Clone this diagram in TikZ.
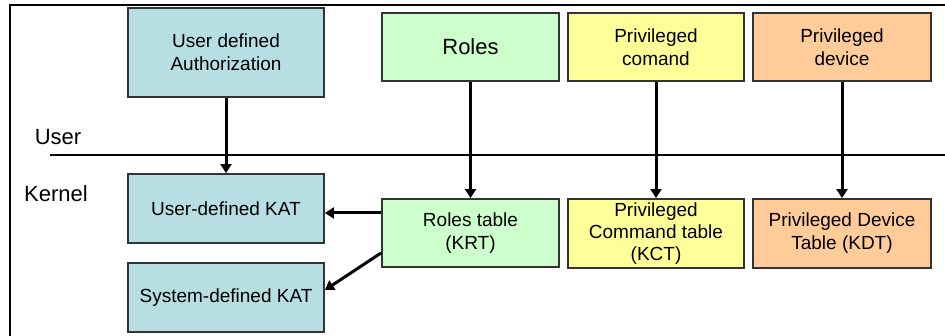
\documentclass[tikz,border=0pt]{standalone}
\usepackage{fontspec}
\setmainfont{Liberation Sans}
\usetikzlibrary{arrows.meta}
\definecolor{tealbox}{HTML}{B7DEE2}
\definecolor{greenbox}{HTML}{CCFFCC}
\definecolor{yellowbox}{HTML}{FFFF99}
\definecolor{orangebox}{HTML}{FFCC99}
\definecolor{edgegray}{HTML}{333333}
\tikzset{
  box/.style={draw=edgegray, line width=1.9pt, align=center, inner sep=0pt,
    font=\fontsize{19}{23}\selectfont},
  arr/.style={line width=3pt, -{Triangle[length=9pt,width=11pt]}},
  lbl/.style={font=\fontsize{22}{26}\selectfont, inner sep=0pt},
}
\begin{document}
\begin{tikzpicture}[x=1pt,y=-1pt]
\useasboundingbox (0,0) rectangle (945,336);
% frame
\draw[line width=1.6pt] (10,336) -- (10,5) -- (945,5);
% user/kernel separator
\draw[line width=1.7pt] (50,155) -- (945,155);
\node[lbl] (user) at (58,137) {User};
\node[lbl] (kernel) at (56,194) {Kernel};
% top boxes
\node[box, fill=tealbox, minimum width=196pt, minimum height=89pt] (ua) at (226,52.5) {User defined\\Authorization};
\node[box, fill=greenbox, minimum width=177pt, minimum height=68pt, font=\fontsize{22}{26}\selectfont] (roles) at (470.5,47) {Roles};
\node[box, fill=yellowbox, minimum width=176pt, minimum height=68pt] (pc) at (656,47) {Privileged\\comand};
\node[box, fill=orangebox, minimum width=178pt, minimum height=68pt] (pd) at (842,47) {Privileged\\device};
% kernel boxes
\node[box, fill=tealbox, minimum width=196pt, minimum height=69pt] (ukat) at (226,208.5) {User-defined KAT};
\node[box, fill=tealbox, minimum width=196pt, minimum height=69pt] (skat) at (226,297.5) {System-defined KAT};
\node[box, fill=greenbox, minimum width=177pt, minimum height=68pt] (rt) at (470.5,233) {Roles table\\(KRT)};
\node[box, fill=yellowbox, minimum width=176pt, minimum height=69pt, font=\fontsize{19}{22}\selectfont] (kct) at (656,233.5) {Privileged\\Command table\\(KCT)};
\node[box, fill=orangebox, minimum width=178pt, minimum height=69pt] (kdt) at (842,233.5) {Privileged Device\\Table (KDT)};
% arrows
\draw[arr] (ua.south) -- (ukat.north);
\draw[arr] (roles.south) -- (rt.north);
\draw[arr] (pc.south) -- (kct.north);
\draw[arr] (pd.south) -- (kdt.north);
\draw[arr] (rt.west |- 0,213) -- (ukat.east |- 0,213);
\draw[arr] (rt.west |- 0,253) -- (skat.east |- 0,290);
\end{tikzpicture}
\end{document}
